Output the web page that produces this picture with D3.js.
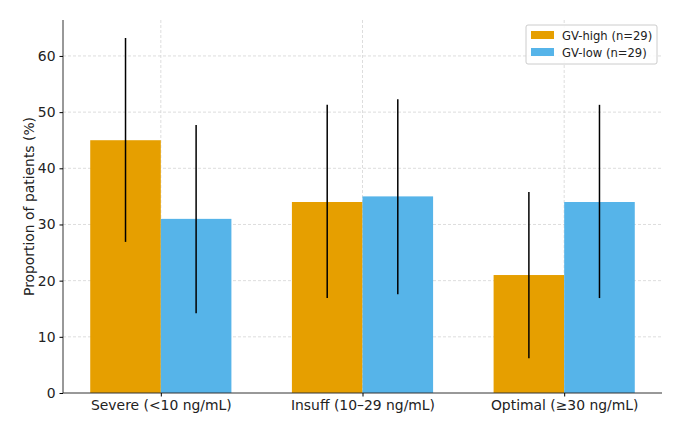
<!DOCTYPE html>
<html>
<head>
<meta charset="utf-8">
<script src="https://cdn.jsdelivr.net/npm/d3@7"></script>
<style>
  body { margin: 0; background: #fff; }
  text { font-family: "DejaVu Sans", sans-serif; }
  .grid line { stroke: #d4d4d4; stroke-dasharray: 3,2; stroke-width: 0.8; }
</style>
</head>
<body>
<div id="chart"></div>
<script>
var categories = ["Severe (<10 ng/mL)", "Insuff (10\u201329 ng/mL)", "Optimal (\u226530 ng/mL)"];
var seriesNames = ["GV-high (n=29)", "GV-low (n=29)"];
var highValues = [45, 34, 21];
var lowValues = [31, 35, 34];
var highErrLow = [26.9, 16.9, 6.2];
var highErrHigh = [63.2, 51.3, 35.8];
var lowErrLow = [14.2, 17.6, 16.9];
var lowErrHigh = [47.7, 52.3, 51.3];
var yTicks = [0, 10, 20, 30, 40, 50, 60];
var colors = ["#E69F00", "#56B4E9"];

var W = 693, H = 432;
var margin = {top: 20, right: 31, bottom: 39, left: 63};
var width = W - margin.left - margin.right,
    height = H - margin.top - margin.bottom;

var svg = d3.select("#chart").append("svg")
    .attr("width", W).attr("height", H);
var chart = svg.append("g")
    .attr("transform", "translate(" + margin.left + "," + margin.top + ")");

var x = d3.scaleLinear().domain([-0.485, 2.485]).range([0, width]);
var y = d3.scaleLinear().domain([0, 66.4]).range([height, 0]);
var barW = 0.35;

// grid
chart.append("g").attr("class", "grid")
  .selectAll("line").data(yTicks.slice(1)).enter().append("line")
  .attr("x1", 0).attr("x2", width)
  .attr("y1", function(d){ return y(d); }).attr("y2", function(d){ return y(d); });
chart.append("g").attr("class", "grid")
  .selectAll("line").data(categories).enter().append("line")
  .attr("y1", 0).attr("y2", height)
  .attr("x1", function(d, i){ return x(i); }).attr("x2", function(d, i){ return x(i); });

var series = [
  {vals: highValues, lo: highErrLow, hi: highErrHigh, off: -barW / 2, color: colors[0]},
  {vals: lowValues, lo: lowErrLow, hi: lowErrHigh, off: barW / 2, color: colors[1]}
];

series.forEach(function(s){
  chart.selectAll(null).data(s.vals).enter().append("rect")
    .attr("x", function(d, i){ return x(i + s.off - barW / 2); })
    .attr("width", x(barW) - x(0))
    .attr("y", function(d){ return y(d); })
    .attr("height", function(d){ return y(0) - y(d); })
    .attr("fill", s.color);
});
series.forEach(function(s){
  chart.selectAll(null).data(s.vals).enter().append("line")
    .attr("x1", function(d, i){ return x(i + s.off); })
    .attr("x2", function(d, i){ return x(i + s.off); })
    .attr("y1", function(d, i){ return y(s.lo[i]); })
    .attr("y2", function(d, i){ return y(s.hi[i]); })
    .attr("stroke", "#000").attr("stroke-width", 1.5);
});

// axes
var yAxis = d3.axisLeft(y).tickValues(yTicks).tickSize(3.5).tickPadding(4);
var gy = chart.append("g").call(yAxis);
gy.select(".domain").attr("d", "M0," + height + "V0").attr("stroke", "#333").attr("stroke-width", 1);
gy.selectAll("text").attr("font-size", 13.9).attr("fill", "#222");

var xAxis = d3.axisBottom(x).tickValues([0, 1, 2]).tickFormat(function(d){ return categories[d]; })
  .tickSize(3.5).tickPadding(4);
var gx = chart.append("g").attr("transform", "translate(0," + height + ")").call(xAxis);
gx.select(".domain").attr("d", "M0,0H" + width).attr("stroke", "#333").attr("stroke-width", 1);
gx.selectAll("text").attr("font-size", 13.9).attr("fill", "#222");

chart.append("text")
  .attr("transform", "rotate(-90)")
  .attr("x", -height / 2).attr("y", -29)
  .attr("text-anchor", "middle")
  .attr("font-size", 13.9).attr("fill", "#222")
  .text("Proportion of patients (%)");

// legend
var lg = svg.append("g").attr("transform", "translate(526,25)");
lg.append("rect").attr("width", 131).attr("height", 39).attr("rx", 2)
  .attr("fill", "#fff").attr("fill-opacity", 0.85).attr("stroke", "#ccc");
seriesNames.forEach(function(n, i){
  lg.append("rect").attr("x", 5).attr("y", 6 + i * 17).attr("width", 23).attr("height", 8)
    .attr("fill", colors[i]);
  lg.append("text").attr("x", 36).attr("y", 15 + i * 17)
    .attr("font-size", 11.6).attr("fill", "#222").text(n);
});
</script>
</body>
</html>
